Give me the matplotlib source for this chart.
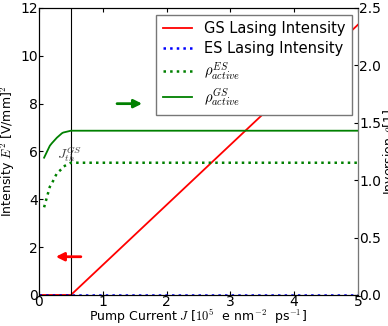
import numpy as np
import matplotlib
matplotlib.use('Agg')
import matplotlib.pyplot as plt

plt.rcParams['mathtext.fontset'] = 'cm'
plt.rcParams['xtick.direction'] = 'in'
plt.rcParams['ytick.direction'] = 'in'

# pump current values and lasing intensities
J = [0.0, 0.5, 5.0]
gs_intensity = [0.0, 0.0, 11.3]
es_intensity = [0.0, 0.0, 0.0]

# inversion curves (right axis)
J_rho = [0.08, 0.17, 0.2, 0.28, 0.36, 0.38, 0.5, 5.0]
rho_gs = [1.196, 1.30, 1.321, 1.37, 1.409, 1.415, 1.431, 1.431]
rho_es = [0.764, 0.943, 0.97, 1.06, 1.10, 1.118, 1.152, 1.152]

J_th = 0.5

fig = plt.figure(figsize=(3.88, 3.26), dpi=100)
ax = fig.add_axes([0.1005, 0.0951, 0.822, 0.8804])
ax2 = ax.twinx()

l1, = ax.plot(J, gs_intensity, 'r-', lw=1.3, label='GS Lasing Intensity')
l2, = ax.plot(J, es_intensity, 'b:', lw=1.8, label='ES Lasing Intensity')
l3, = ax2.plot(J_rho, rho_es, color='green', ls=':', lw=1.8,
               label=r'$\rho_{active}^{ES}$')
l4, = ax2.plot(J_rho, rho_gs, color='green', ls='-', lw=1.3,
               label=r'$\rho_{active}^{GS}$')

ax.axvline(J_th, color='black', lw=0.8)
ax.text(0.28, 5.7, r'$J_{th}^{GS}$', fontsize=10, color='#444444')

# arrows showing which axis each curve belongs to
ax.annotate('', xy=(1.66, 8.0), xytext=(1.18, 8.0),
            arrowprops=dict(arrowstyle='-|>', color='green', lw=2,
                            mutation_scale=12))
ax.annotate('', xy=(0.22, 1.6), xytext=(0.7, 1.6),
            arrowprops=dict(arrowstyle='-|>', color='red', lw=2,
                            mutation_scale=12))

ax.set_xlim(0, 5)
ax.set_ylim(0, 12)
ax2.set_ylim(0, 2.5)
ax.set_xticks([0, 1, 2, 3, 4, 5])
ax.set_yticks([0, 2, 4, 6, 8, 10, 12])
ax2.set_yticks([0.0, 0.5, 1.0, 1.5, 2.0, 2.5])
ax.tick_params(labelsize=10, pad=1, top=True, length=3)
ax.tick_params(axis='x', pad=0)
ax2.tick_params(labelsize=10, pad=1, length=3)

ax.set_xlabel(r'Pump Current $J$ [$10^5$  e nm$^{-2}$  ps$^{-1}$]',
              fontsize=9, labelpad=-1)
ax.set_ylabel(r'Intensity $E^2$ [V/mm]$^2$', fontsize=9, labelpad=2)
ax2.set_ylabel(r'Inversion $\rho$[1]', fontsize=9, labelpad=0)
ax2.spines['right'].set_color('#777777')

leg = ax.legend(handles=[l1, l2, l3, l4], loc='upper right',
                bbox_to_anchor=(0.981, 0.976), borderaxespad=0,
                fontsize=10.5, fancybox=False, framealpha=1,
                edgecolor='#777777', handlelength=2.0,
                labelspacing=0.3, borderpad=0.45)
leg.get_frame().set_linewidth(1.0)

fig.savefig('out.png', dpi=100)
